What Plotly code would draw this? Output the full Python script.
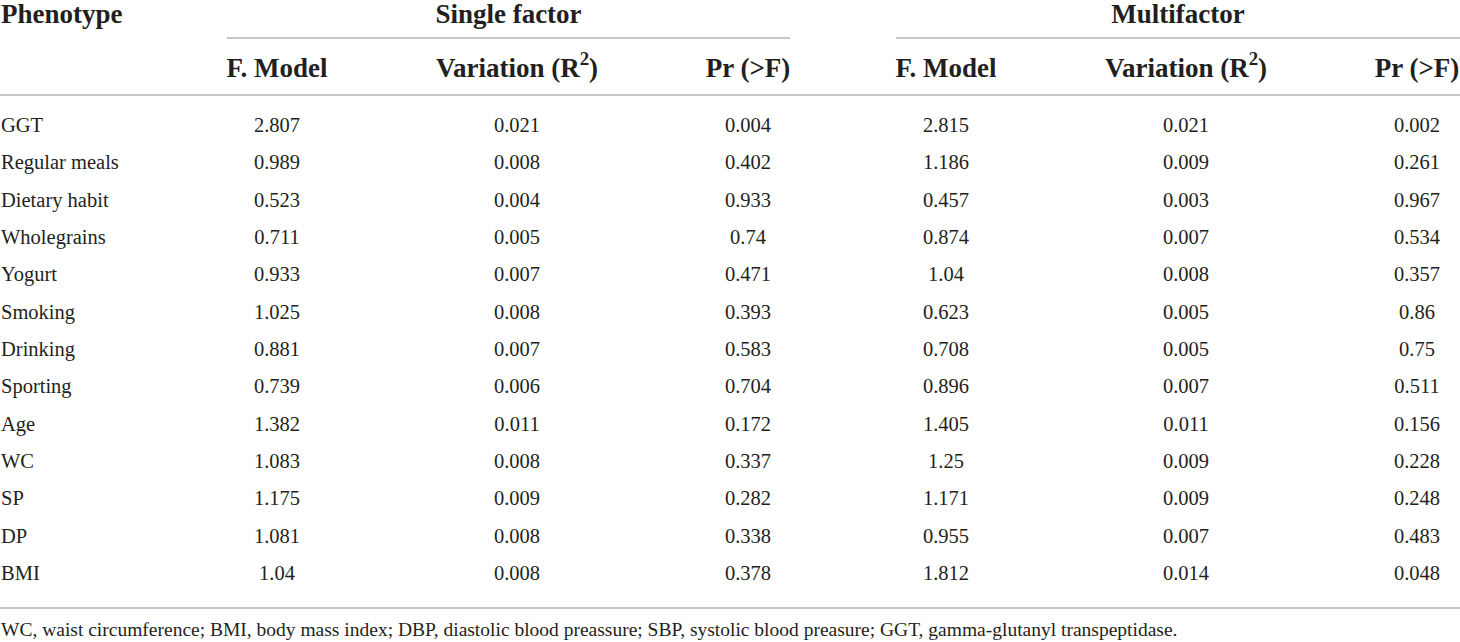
import plotly.graph_objects as go

phenotypes = ["GGT", "Regular meals", "Dietary habit", "Wholegrains", "Yogurt", "Smoking",
              "Drinking", "Sporting", "Age", "WC", "SP", "DP", "BMI"]

single_f = [2.807, 0.989, 0.523, 0.711, 0.933, 1.025, 0.881, 0.739, 1.382, 1.083, 1.175, 1.081, 1.04]
single_r2 = [0.021, 0.008, 0.004, 0.005, 0.007, 0.008, 0.007, 0.006, 0.011, 0.008, 0.009, 0.008, 0.008]
single_p = [0.004, 0.402, 0.933, 0.74, 0.471, 0.393, 0.583, 0.704, 0.172, 0.337, 0.282, 0.338, 0.378]

multi_f = [2.815, 1.186, 0.457, 0.874, 1.04, 0.623, 0.708, 0.896, 1.405, 1.25, 1.171, 0.955, 1.812]
multi_r2 = [0.021, 0.009, 0.003, 0.007, 0.008, 0.005, 0.005, 0.007, 0.011, 0.009, 0.009, 0.007, 0.014]
multi_p = [0.002, 0.261, 0.967, 0.534, 0.357, 0.86, 0.75, 0.511, 0.156, 0.228, 0.248, 0.483, 0.048]

group_labels = ["Single factor", "Multifactor"]
sub_labels = ["F. Model", "Variation (R<sup>2</sup>)", "Pr (>F)"]
footnote = ("WC, waist circumference; BMI, body mass index; DBP, diastolic blood preassure; "
            "SBP, systolic blood preasure; GGT, gamma-glutanyl transpeptidase.")

# page geometry (pixels)
W, H = 1460, 642
group_starts = [227, 896]
col_offsets = [50, 290, 521]
row0, row_step = 127, 37.33
head_y, sub_y = 16.5, 70
font = "Liberation Serif"
ink = "#231f20"
rule = "#c8c8c8"

fig = go.Figure()

rows_y = [row0 + i * row_step for i in range(len(phenotypes))]

fig.add_trace(go.Scatter(
    x=[1] * len(phenotypes), y=rows_y, text=phenotypes, mode="text",
    textposition="middle right", textfont=dict(family=font, size=20.5, color=ink),
    hoverinfo="skip", showlegend=False))

columns = [single_f, single_r2, single_p, multi_f, multi_r2, multi_p]
for k, vals in enumerate(columns):
    xc = group_starts[k // 3] + col_offsets[k % 3]
    fig.add_trace(go.Scatter(
        x=[xc] * len(vals), y=rows_y, text=[str(v) for v in vals], mode="text",
        textposition="middle center", textfont=dict(family=font, size=20.5, color=ink),
        hoverinfo="skip", showlegend=False))

# headers
hx, hy, ht, hp = [1], [head_y], ["<b>Phenotype</b>"], ["middle right"]
for g, start in enumerate(group_starts):
    hx.append((start + (790 if g == 0 else W)) / 2)
    hy.append(head_y)
    ht.append("<b>" + group_labels[g] + "</b>")
    hp.append("middle center")
    for j, lab in enumerate(sub_labels):
        hx.append(start + col_offsets[j])
        hy.append(sub_y)
        ht.append("<b>" + lab + "</b>")
        hp.append("middle center")
fig.add_trace(go.Scatter(
    x=hx, y=hy, text=ht, mode="text", textposition=hp,
    textfont=dict(family=font, size=27, color=ink),
    hoverinfo="skip", showlegend=False))

fig.add_trace(go.Scatter(
    x=[1], y=[631], text=[footnote], mode="text", textposition="middle right",
    textfont=dict(family=font, size=19.5, color=ink),
    hoverinfo="skip", showlegend=False))

# rules
for x0, x1, y in [(227, 790, 38), (896, W, 38), (0, W, 95), (0, W, 608)]:
    fig.add_shape(type="line", x0=x0, x1=x1, y0=y, y1=y, xref="x", yref="y",
                  line=dict(color=rule, width=2))

fig.update_layout(
    width=W, height=H,
    margin=dict(l=0, r=0, t=0, b=0),
    paper_bgcolor="white", plot_bgcolor="white",
    xaxis=dict(range=[0, W], visible=False, fixedrange=True),
    yaxis=dict(range=[H, 0], visible=False, fixedrange=True),
)

fig.write_html("out.html", config={"displayModeBar": False},
               post_script="document.body.style.margin='0';")
